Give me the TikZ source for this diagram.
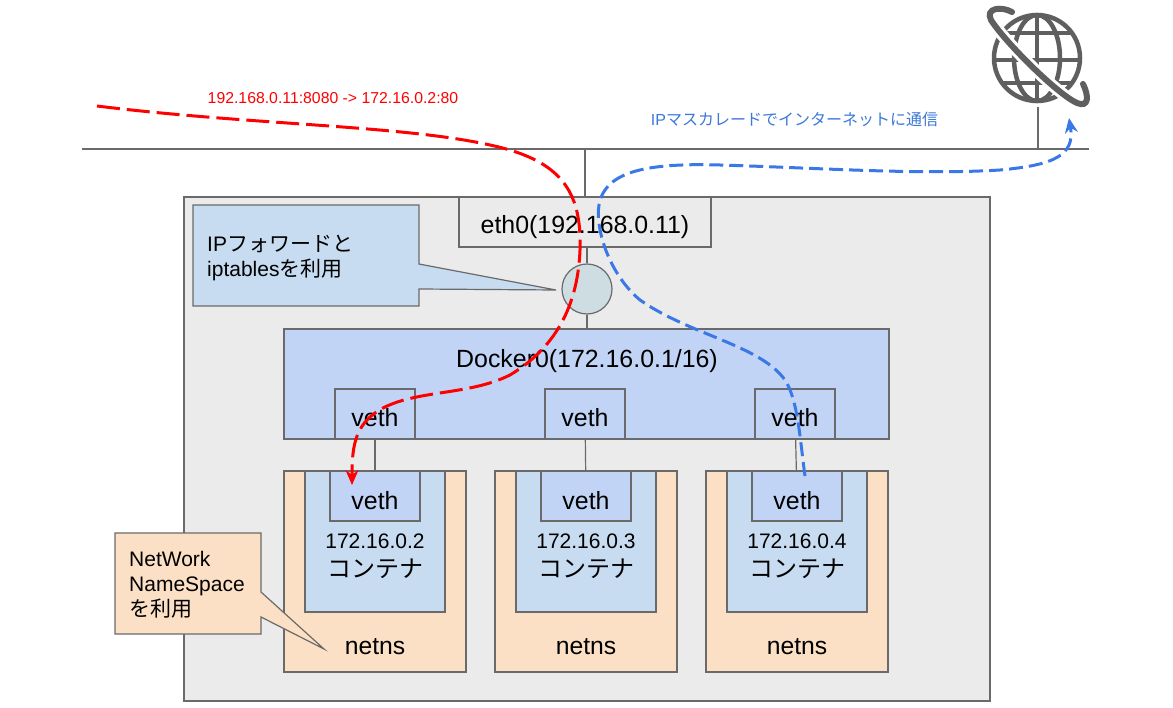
\documentclass[tikz,border=0pt]{standalone}
\usepackage{fontspec}
\usepackage{xcolor}
\setmainfont{Liberation Sans}
\newfontfamily\cjk{Noto Sans CJK JP}
\usetikzlibrary{shapes,arrows.meta}
\usetikzlibrary{positioning}
\definecolor{hostgray}{HTML}{EBEBEB}
\definecolor{edgegray}{HTML}{6A6A6A}
\definecolor{bridgeblue}{HTML}{C2D4F5}
\definecolor{boxblue}{HTML}{C7DCF0}
\definecolor{nsorange}{HTML}{FCE0C6}
\definecolor{routerfill}{HTML}{CDDDE1}
\definecolor{netblue}{HTML}{3C78D8}
\definecolor{inetblue}{HTML}{3B78E7}
\definecolor{natred}{HTML}{FF0000}

\begin{document}
\begin{tikzpicture}[x=1pt, y=-1pt, node distance = 0pt,
			box/.style={
					rectangle,
					draw=edgegray,
					line width=1.2pt,
					inner sep=0pt,
					outer sep=0pt,
					align=center,
					font=\fontsize{24.9}{28}\selectfont
				},
			vethbox/.style={box, fill=bridgeblue, minimum width=80pt, minimum height=50pt},
			innerveth/.style={box, fill=bridgeblue, minimum width=90pt, minimum height=50pt},
			nsbox/.style={box, fill=nsorange, minimum width=182pt, minimum height=201pt},
			ctrbox/.style={box, fill=boxblue, minimum width=140pt, minimum height=141pt},
			ipname/.style={inner sep=0pt, font=\fontsize{21}{24}\selectfont},
			ctrname/.style={inner sep=0pt, font=\fontsize{24}{28}\cjk},
			nsname/.style={inner sep=0pt, font=\fontsize{24.7}{28}\selectfont},
			note/.style={inner sep=0pt, align=left, font=\fontsize{21}{25}\selectfont},
			callout/.style={draw=edgegray, line width=1.2pt, line join=miter},
			line/.style={draw=edgegray, line width=1.2pt},
			natline/.style={draw=natred, line width=3pt, dash pattern=on 23pt off 7pt, -{Stealth[length=15pt,width=13pt,inset=5pt]}},
			inetline/.style={draw=inetblue, line width=3pt, dash pattern=on 14pt off 6pt, -{Stealth[length=15pt,width=13pt,inset=5pt]}},
			globeline/.style={draw=edgegray!90!black, line width=4.5pt}
		]
		\useasboundingbox (0,0) rectangle (1173,708);
		% Place nodes
		\node [box, fill=hostgray, minimum width=806pt, minimum height=504pt] (host) at (587,449) {};
		\node [box, fill=hostgray, minimum width=252pt, minimum height=50pt] (eth0) at (585,222) {\raisebox{-11.5pt}[0pt][0pt]{eth0(192.168.0.11)}};
		\node [circle, draw=edgegray, line width=1.2pt, fill=routerfill, minimum size=50pt, inner sep=0pt] (router) at (587,289) {};
		\node [box, fill=bridgeblue, minimum width=605pt, minimum height=110pt] (docker) at (586.5,384) {};
		\node (dockername) [inner sep=0pt, font=\fontsize{24.9}{28}\selectfont] at (587,361) {Docker0(172.16.0.1/16)};
		\node [vethbox] (vetha) at (375,414) {\raisebox{-13pt}[0pt][0pt]{veth}};
		\node [vethbox] (vethb) at (585,414) {\raisebox{-13pt}[0pt][0pt]{veth}};
		\node [vethbox] (vethc) at (795,414) {\raisebox{-13pt}[0pt][0pt]{veth}};
		% containers
		\node [nsbox] (nsa) at (375,571.5) {};
		\node [nsbox, right=29pt of nsa] (nsb) {};
		\node [nsbox, right=29pt of nsb] (nsc) {};
		\node [ctrbox, below=0pt of nsa.north] (ctra) {};
		\node [ctrbox, below=0pt of nsb.north] (ctrb) {};
		\node [ctrbox, below=0pt of nsc.north] (ctrc) {};
		\node [innerveth, below=0pt of ctra.north] (ineta) {\raisebox{-13.5pt}[0pt][0pt]{veth}};
		\node [innerveth, below=0pt of ctrb.north] (inetb) {\raisebox{-13.5pt}[0pt][0pt]{veth}};
		\node [innerveth, below=0pt of ctrc.north] (inetc) {\raisebox{-13.5pt}[0pt][0pt]{veth}};
		\node [ipname, below=13pt of ineta] (ipa) {172.16.0.2};
		\node [ipname, below=13pt of inetb] (ipb) {172.16.0.3};
		\node [ipname, below=13pt of inetc] (ipc) {172.16.0.4};
		\node [ctrname, below=9pt of ipa] (namea) {コンテナ};
		\node [ctrname, below=9pt of ipb] (nameb) {コンテナ};
		\node [ctrname, below=9pt of ipc] (namec) {コンテナ};
		\node [nsname, above=17pt of nsa.south] (nsnamea) {netns};
		\node [nsname, above=17pt of nsb.south] (nsnameb) {netns};
		\node [nsname, above=17pt of nsc.south] (nsnamec) {netns};
		% network line and globe
		\coordinate (lanleft) at (82,149);
		\coordinate (lanright) at (1089,149);
		\coordinate (globefoot) at (1038,107);
		\coordinate (natstart) at (97,106);
		\node [inner sep=0pt, text=natred, font=\fontsize{15.8}{18}\selectfont] (natlabel) at (333,98) {192.168.0.11:8080 -> 172.16.0.2:80};
		\node [inner sep=0pt, text=netblue, font=\fontsize{16}{18}\selectfont] (inetlabel) at (794.5,119) {IP{\cjk マスカレードでインターネットに通信}};
		\begin{scope}[shift={(1037,58)}]
			\draw [globeline] (0,0) circle (43);
			\draw [globeline] (0,-43) -- (0,43);
			\draw [globeline] (0,0) ellipse (23 and 43);
			\draw [globeline] (-43,2) -- (43,2);
			\draw [globeline] (-35,-25) -- (35,-25);
			\draw [globeline] (-35,25) -- (35,25);
			\draw [white, line width=12pt] (-46,-38) .. controls (-32,-16) and (20,36) .. (40,45);
			\draw [globeline, line width=6pt, line cap=round] (-25,-46) .. controls (-36,-52) and (-52,-50) .. (-46,-38) .. controls (-32,-16) and (20,36) .. (40,45) .. controls (52,50) and (52,38) .. (46,26);
		\end{scope}
		% callouts
		\draw [callout, fill=boxblue] (193,205) -- (419,205) -- (419,264) -- (556,290) -- (419,289) -- (419,306) -- (193,306) -- cycle;
		\node [note, anchor=north west] (notefwd) at (207,234.5) {IP{\cjk フォワードと}\\iptables{\cjk を利用}};
		\draw [callout, fill=nsorange] (115,533) -- (261,533) -- (261,592) -- (324,649) -- (261,617) -- (261,634) -- (115,634) -- cycle;
		\node [note, anchor=north west] (notens) at (129,551) {NetWork\\NameSpace\\{\cjk を利用}};
		% Draw edges
		\path [line] (lanleft) -- (lanright);
		\path [line] (eth0.north) -- (eth0.north |- lanleft);
		\path [line] (globefoot) -- (globefoot |- lanleft);
		\path [line] (eth0.south -| router) -- (router);
		\path [line] (router) -- (router |- docker.north);
		\path [line] (vetha) -- (ineta);
		\path [line] (vethb) -- (inetb);
		\path [line] (vethc) -- (inetc);
		\path [natline] (natstart) .. controls (250,125) and (400,125) .. (490,145) .. controls (560,160) and (582,190) .. (580,250) .. controls (578,300) and (560,345) .. (510,375) .. controls (470,395) and (420,390) .. (385,407) .. controls (355,422) and (352,445) .. (352,485);
		\path [inetline] (805,476) .. controls (800,440) and (798,400) .. (785,380) .. controls (760,345) and (690,335) .. (640,300) .. controls (610,275) and (595,230) .. (599,205) .. controls (605,170) and (650,163) .. (720,165) .. controls (820,168) and (920,175) .. (1000,170) .. controls (1055,165) and (1075,155) .. (1069,118);
	\end{tikzpicture}
\end{document}
